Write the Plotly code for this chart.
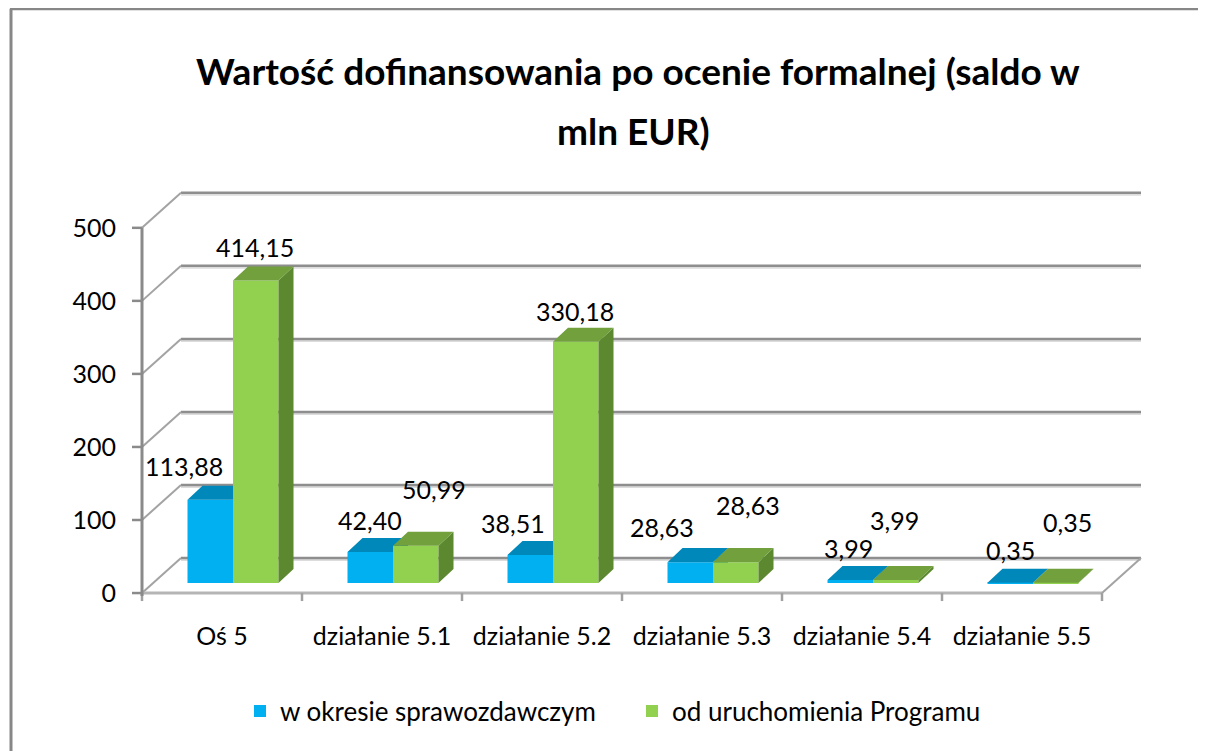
import plotly.graph_objects as go

# ---------------- data ----------------
categories = ["Oś 5", "działanie 5.1", "działanie 5.2", "działanie 5.3", "działanie 5.4", "działanie 5.5"]
series_names = ["w okresie sprawozdawczym", "od uruchomienia Programu"]
values_period = [113.88, 42.40, 38.51, 28.63, 3.99, 0.35]
values_total = [414.15, 50.99, 330.18, 28.63, 3.99, 0.35]
y_ticks = [0, 100, 200, 300, 400, 500]
y_tick_labels = ["0", "100", "200", "300", "400", "500"]
title_lines = ["Wartość dofinansowania po ocenie formalnej (saldo w", "mln EUR)"]

# label nudges (pixels) to mimic the original placement
nudge_period_x = [-26, 0, -17, -28, -2, 0]
nudge_period_y = [0, -2, -2, 1, -2, -1]
nudge_total_x = [-1, 18, -1, 12, -1, 12]
nudge_total_y = [0, 23, -3, 23, 26, 27]

# ---------------- geometry ----------------
OFF = 8                      # page body margin of the html page
W_PX, H_PX = 1206 - OFF, 751 - OFF
KX = 160.0      # px per category
KY = 0.73       # px per value unit
X0_PX, Y0_PX = 142.0 - OFF, 593.0 - OFF
X_RANGE = [-0.1, 6.3]
Y_RANGE = [-15, 560]
L = X0_PX + X_RANGE[0] * KX
PW = (X_RANGE[1] - X_RANGE[0]) * KX
R = W_PX - L - PW
T = Y0_PX - Y_RANGE[1] * KY
PH = (Y_RANGE[1] - Y_RANGE[0]) * KY
B = H_PX - T - PH


def ux(px):
    return px / KX


def uy(px):
    return px / KY


def paper_x(sx):
    return (sx - OFF - L) / PW


def paper_y(sy):
    return (T + PH - (sy - OFF)) / PH


FRONT = (11, 10)   # bar front plane offset (px right, px up)
BACK = (26, 24)    # bar back plane offset
WALL = (39, 35)    # back wall offset
BAR_W = ux(45.5)

BLUE, BLUE_TOP, BLUE_SIDE = "#00B0F0", "#0088BA", "#0077A3"
GREEN, GREEN_TOP, GREEN_SIDE = "#92D050", "#71A03D", "#5C8830"
FONT = "Lato, 'Open Sans', sans-serif"

n = len(categories)
fx, fy = ux(FRONT[0]), uy(FRONT[1])
ddx, ddy = ux(BACK[0] - FRONT[0]), uy(BACK[1] - FRONT[1])
wx, wy = ux(WALL[0]), uy(WALL[1])


def faces(lefts, vals):
    tops_x, tops_y, side_x, side_y = [], [], [], []
    for xl, v in zip(lefts, vals):
        xr = xl + BAR_W
        t = v + fy
        tops_x += [xl, xr, xr + ddx, xl + ddx, xl, None]
        tops_y += [t, t, t + ddy, t + ddy, t, None]
        side_x += [xr, xr, xr + ddx, xr + ddx, xr, None]
        side_y += [fy, t, t + ddy, fy + ddy, fy, None]
    return tops_x, tops_y, side_x, side_y


blue_left = [i + 0.5 + fx - BAR_W for i in range(n)]
green_left = [i + 0.5 + fx for i in range(n)]

fig = go.Figure()

# blue series (main subplot)
fig.add_trace(go.Bar(
    x=[xl + BAR_W / 2 for xl in blue_left], y=values_period, base=[fy] * n, width=BAR_W,
    marker=dict(color=BLUE, line=dict(width=0)), name=series_names[0],
    legend="legend", hoverinfo="skip"))
btx, bty, bsx, bsy = faces(blue_left, values_period)
fig.add_trace(go.Scatter(x=bsx, y=bsy, fill="toself", fillcolor=BLUE_SIDE, mode="lines",
                         line=dict(width=0, color=BLUE_SIDE), showlegend=False, hoverinfo="skip"))
fig.add_trace(go.Scatter(x=btx, y=bty, fill="toself", fillcolor=BLUE_TOP, mode="lines",
                         line=dict(width=0, color=BLUE_TOP), showlegend=False, hoverinfo="skip"))

# green series (overlay subplot, drawn on top)
fig.add_trace(go.Bar(
    x=[xl + BAR_W / 2 for xl in green_left], y=values_total, base=[fy] * n, width=BAR_W,
    marker=dict(color=GREEN, line=dict(width=0)), name=series_names[1],
    legend="legend2", xaxis="x2", yaxis="y2", hoverinfo="skip"))
gtx, gty, gsx, gsy = faces(green_left, values_total)
fig.add_trace(go.Scatter(x=gsx, y=gsy, fill="toself", fillcolor=GREEN_SIDE, mode="lines",
                         line=dict(width=0, color=GREEN_SIDE), showlegend=False,
                         xaxis="x2", yaxis="y2", hoverinfo="skip"))
fig.add_trace(go.Scatter(x=gtx, y=gty, fill="toself", fillcolor=GREEN_TOP, mode="lines",
                         line=dict(width=0, color=GREEN_TOP), showlegend=False,
                         xaxis="x2", yaxis="y2", hoverinfo="skip"))

# ---------------- walls, gridlines, axes ----------------
shapes = []
GRID = "#8E8E8E"
for t in y_ticks:
    # back wall gridline + light shadow
    shapes.append(dict(type="line", xref="x", yref="y", x0=wx, x1=n + wx, y0=t + wy - uy(2), y1=t + wy - uy(2),
                       line=dict(color="#DCDCDC", width=2), layer="below"))
    shapes.append(dict(type="line", xref="x", yref="y", x0=wx, x1=n + wx, y0=t + wy, y1=t + wy,
                       line=dict(color=GRID, width=2.5), layer="below"))
    # side wall diagonal
    shapes.append(dict(type="line", xref="x", yref="y", x0=0, x1=wx, y0=t, y1=t + wy,
                       line=dict(color="#A3A3A3", width=2), layer="below"))
    # y tick mark
    shapes.append(dict(type="line", xref="x", yref="y", x0=-ux(10), x1=0, y0=t, y1=t,
                       line=dict(color="#8A8A8A", width=2.5), layer="below"))
# floor front edge and right diagonal
shapes.append(dict(type="line", xref="x", yref="y", x0=0, x1=n, y0=0, y1=0,
                   line=dict(color="#B5B5B5", width=3), layer="below"))
shapes.append(dict(type="line", xref="x", yref="y", x0=n, x1=n + wx, y0=0, y1=wy,
                   line=dict(color="#A3A3A3", width=2), layer="below"))
# x tick marks
for i in range(n + 1):
    shapes.append(dict(type="line", xref="x", yref="y", x0=i, x1=i, y0=0, y1=-uy(8),
                       line=dict(color="#A0A0A0", width=2.5), layer="below"))
# y axis line
shapes.append(dict(type="line", xref="x", yref="y", x0=0, x1=0, y0=-uy(3), y1=y_ticks[-1],
                   line=dict(color="#8A8A8A", width=3), layer="below"))
# outer frame: only the top and left edges are inside the picture
shapes.append(dict(type="line", xref="paper", yref="paper",
                   x0=paper_x(10), x1=paper_x(1240), y0=paper_y(9), y1=paper_y(9),
                   line=dict(color="#878787", width=3), layer="below"))
shapes.append(dict(type="line", xref="paper", yref="paper",
                   x0=paper_x(11), x1=paper_x(11), y0=paper_y(790), y1=paper_y(9),
                   line=dict(color="#878787", width=3), layer="below"))

# ---------------- annotations ----------------
ann = []
for i in range(n):
    for vals, lefts, nx, ny in ((values_period, blue_left, nudge_period_x, nudge_period_y),
                                (values_total, green_left, nudge_total_x, nudge_total_y)):
        v = vals[i]
        ann.append(dict(x=lefts[i] + BAR_W / 2, y=v + fy + ddy, xref="x", yref="y",
                        text=f"{v:.2f}".replace(".", ","), showarrow=False,
                        xanchor="center", yanchor="middle",
                        xshift=nx[i], yshift=20 + ny[i],
                        font=dict(family=FONT, size=25, color="#000000")))
ann.append(dict(x=paper_x(638), y=paper_y(71), xref="paper", yref="paper", text="<b>" + title_lines[0] + "</b>",
                showarrow=False, xanchor="center", yanchor="middle",
                font=dict(family=FONT, size=37, color="#000000")))
ann.append(dict(x=paper_x(633), y=paper_y(131), xref="paper", yref="paper", text="<b>" + title_lines[1] + "</b>",
                showarrow=False, xanchor="center", yanchor="middle",
                font=dict(family=FONT, size=37, color="#000000")))

axis_common = dict(showgrid=False, zeroline=False, showline=False, fixedrange=True, automargin=False)
fig.update_layout(
    width=W_PX, height=H_PX,
    margin=dict(l=L, r=R, t=T, b=B, pad=0),
    paper_bgcolor="white", plot_bgcolor="rgba(0,0,0,0)",
    barmode="overlay",
    showlegend=True,
    xaxis=dict(range=X_RANGE, tickmode="array", tickvals=[i + 0.5 for i in range(n)], ticktext=categories,
               ticks="", ticklen=0, ticklabelstandoff=15,
               tickfont=dict(family=FONT, size=25, color="#000000"), **axis_common),
    yaxis=dict(range=Y_RANGE, tickmode="array", tickvals=y_ticks, ticktext=y_tick_labels,
               ticks="", ticklen=0, ticklabelstandoff=9,
               tickfont=dict(family=FONT, size=25, color="#000000"), **axis_common),
    xaxis2=dict(range=X_RANGE, overlaying="x", visible=False, **axis_common),
    yaxis2=dict(range=Y_RANGE, overlaying="y", visible=False, **axis_common),
    legend=dict(x=paper_x(240), y=paper_y(711), xanchor="left", yanchor="middle", orientation="h",
                font=dict(family=FONT, size=26, color="#000000"), bgcolor="rgba(0,0,0,0)"),
    legend2=dict(x=paper_x(632), y=paper_y(711), xanchor="left", yanchor="middle", orientation="h",
                 font=dict(family=FONT, size=26, color="#000000"), bgcolor="rgba(0,0,0,0)"),
    shapes=shapes,
    annotations=ann,
)

fig.write_html("out.html")
